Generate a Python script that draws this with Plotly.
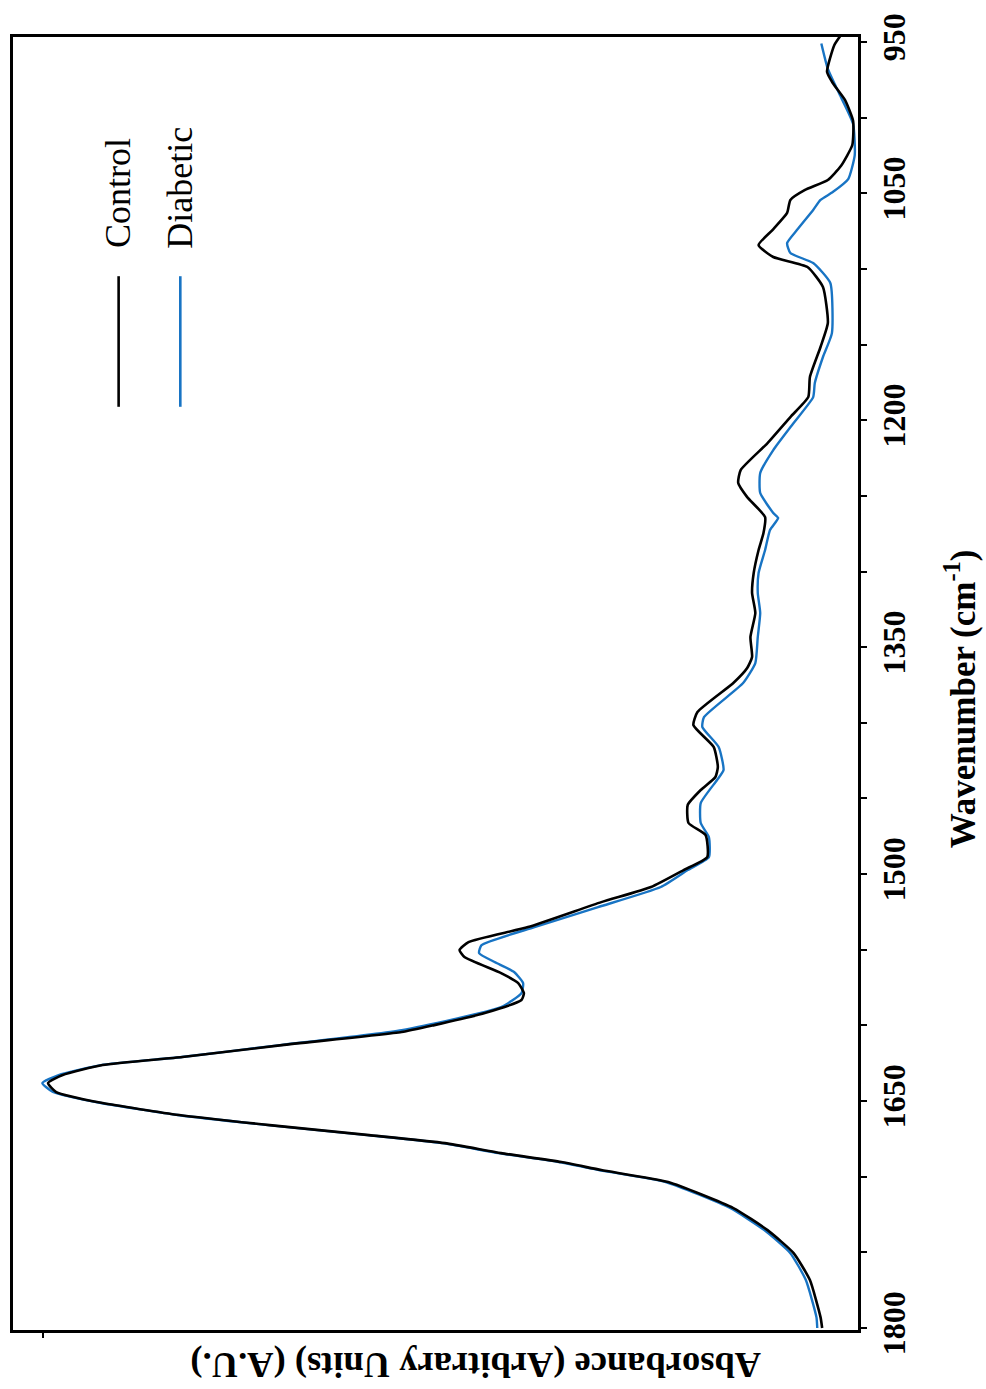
import plotly.graph_objects as go

# FTIR spectra, 950-1800 cm-1
control_wn = [944.7, 952.0, 969.8, 977.1, 988.3, 1002.2, 1018.1, 1032.0, 1041.2, 1047.8,
              1054.4, 1063.0, 1074.3, 1084.2, 1092.1, 1098.7, 1111.9, 1135.7, 1151.6, 1171.4,
              1184.7, 1197.9, 1215.1, 1232.9, 1241.5, 1250.8, 1264.0, 1274.6, 1285.8, 1301.0,
              1314.2, 1327.4, 1343.3, 1356.5, 1363.8, 1373.7, 1392.9, 1401.5, 1416.0, 1429.2,
              1435.8, 1444.4, 1454.3, 1466.2, 1474.2, 1488.7, 1497.3, 1508.5, 1518.5, 1535.0,
              1544.9, 1550.2, 1554.8, 1565.4, 1572.0, 1578.6, 1583.2, 1591.8, 1599.8, 1604.4,
              1613.0, 1620.9, 1626.2, 1632.8, 1638.1, 1644.0, 1651.3, 1659.2, 1665.9, 1672.5,
              1677.8, 1684.4, 1690.3, 1695.6, 1703.5, 1720.7, 1735.3, 1750.5, 1768.3, 1792.8,
              1800.0]
control_abs = [0.020, 0.029, 0.038, 0.031, 0.016, 0.006, 0.007, 0.021, 0.037, 0.065,
               0.083, 0.087, 0.105, 0.122, 0.104, 0.062, 0.043, 0.037, 0.046, 0.059,
               0.061, 0.083, 0.111, 0.144, 0.147, 0.136, 0.114, 0.116, 0.122, 0.128,
               0.130, 0.126, 0.132, 0.130, 0.136, 0.153, 0.197, 0.202, 0.177, 0.172,
               0.175, 0.193, 0.209, 0.208, 0.187, 0.185, 0.214, 0.254, 0.315, 0.405,
               0.478, 0.489, 0.483, 0.438, 0.417, 0.410, 0.413, 0.458, 0.520, 0.560,
               0.707, 0.829, 0.927, 0.976, 0.994, 0.984, 0.927, 0.833, 0.722, 0.600,
               0.507, 0.438, 0.364, 0.315, 0.233, 0.153, 0.111, 0.079, 0.059, 0.046,
               0.044]

diabetic_wn = [951.0, 967.8, 986.4, 1004.2, 1024.7, 1040.6, 1049.2, 1054.4, 1061.0, 1074.3,
               1082.9, 1089.5, 1096.1, 1109.3, 1142.4, 1158.2, 1175.4, 1184.7, 1201.8, 1219.7,
               1234.9, 1248.1, 1261.3, 1264.6, 1272.6, 1285.8, 1301.0, 1314.2, 1327.4, 1343.3,
               1360.5, 1373.7, 1396.2, 1402.8, 1416.0, 1431.2, 1437.8, 1453.0, 1466.2, 1475.5,
               1488.7, 1497.3, 1508.5, 1521.8, 1535.0, 1546.9, 1552.2, 1558.1, 1564.7, 1572.0,
               1578.6, 1587.9, 1603.1, 1613.0, 1620.9, 1626.2, 1632.8, 1638.1, 1644.0, 1651.3,
               1659.2, 1665.9, 1672.5, 1677.8, 1684.4, 1690.3, 1695.6, 1703.5, 1720.7, 1735.3,
               1750.5, 1768.3, 1792.8, 1800.0]
diabetic_abs = [0.045, 0.037, 0.021, 0.006, 0.004, 0.012, 0.031, 0.046, 0.055, 0.075,
                0.087, 0.083, 0.055, 0.034, 0.032, 0.043, 0.053, 0.055, 0.079, 0.104,
                0.120, 0.120, 0.104, 0.098, 0.108, 0.114, 0.122, 0.123, 0.120, 0.123,
                0.126, 0.141, 0.189, 0.191, 0.171, 0.165, 0.173, 0.193, 0.193, 0.183,
                0.183, 0.209, 0.242, 0.319, 0.397, 0.462, 0.465, 0.446, 0.422, 0.411,
                0.413, 0.438, 0.560, 0.709, 0.830, 0.929, 0.981, 1.001, 0.988, 0.929,
                0.835, 0.724, 0.602, 0.510, 0.441, 0.367, 0.318, 0.236, 0.157, 0.115,
                0.083, 0.064, 0.051, 0.050]

wn_ticks = list(range(950, 1801, 50))
wn_labelled = [950, 1050, 1200, 1350, 1500, 1650, 1800]
wn_ticktext = [str(v) if v in wn_labelled else "" for v in wn_ticks]

series_names = ["Control", "Diabetic"]
series_colors = ["#000000", "#1874c4"]

SERIF = "Liberation Serif, Times New Roman, serif"

fig = go.Figure()
# diabetic first so the control trace sits on top
fig.add_trace(go.Scatter(x=diabetic_abs, y=diabetic_wn, mode="lines", name=series_names[1],
                         line=dict(color=series_colors[1], width=2.4,
                                   shape="spline", smoothing=0.5)))
fig.add_trace(go.Scatter(x=control_abs, y=control_wn, mode="lines", name=series_names[0],
                         line=dict(color=series_colors[0], width=2.6,
                                   shape="spline", smoothing=0.5)))

fig.update_layout(
    width=986, height=1389,
    margin=dict(l=10, r=128, t=37, b=59),
    paper_bgcolor="white", plot_bgcolor="white",
    showlegend=False,
    font=dict(family=SERIF, color="black"),
)

fig.update_xaxes(
    range=[1.037, 0], showgrid=False, zeroline=False,
    showline=True, linewidth=3, linecolor="black", mirror=True,
    ticks="outside", ticklen=5, tickwidth=1.5, tickcolor="black",
    tickvals=[1.0], ticktext=[""],
)
fig.update_yaxes(
    range=[1801.3, 946.7], side="right", showgrid=False, zeroline=False,
    showline=True, linewidth=3, linecolor="black", mirror=True,
    ticks="outside", ticklen=6, tickwidth=1.5, tickcolor="black",
    tickvals=wn_ticks, ticktext=wn_ticktext, tickangle=-90,
    tickfont=dict(family=SERIF, size=32, color="black", weight="bold"),
)

# rotated axis titles
fig.add_annotation(text="<b>Wavenumber (cm<sup>-1</sup>)</b>", textangle=-90,
                   xref="paper", yref="paper", x=1.121, y=0.488,
                   xanchor="center", yanchor="middle",
                   showarrow=False, font=dict(family=SERIF, size=35, color="black"))
fig.add_annotation(text="<b>Absorbance (Arbitrary Units) (A.U.)</b>", textangle=180,
                   xref="paper", yref="paper", x=0.548, y=-0.027,
                   xanchor="center", yanchor="middle",
                   showarrow=False, font=dict(family=SERIF, size=36.5, color="black"))

# legend: vertical swatches with rotated labels
legend_x = [0.125, 0.198]
for name, color, lx in zip(series_names, series_colors, legend_x):
    fig.add_shape(type="line", xref="paper", yref="paper",
                  x0=lx, x1=lx, y0=0.714, y1=0.815,
                  line=dict(color=color, width=2.6))
    fig.add_annotation(text=name, textangle=-90, xref="paper", yref="paper",
                       x=lx, y=0.835, xanchor="center", yanchor="bottom",
                       showarrow=False, font=dict(family=SERIF, size=36, color="black"))

fig.write_html("out.html")
